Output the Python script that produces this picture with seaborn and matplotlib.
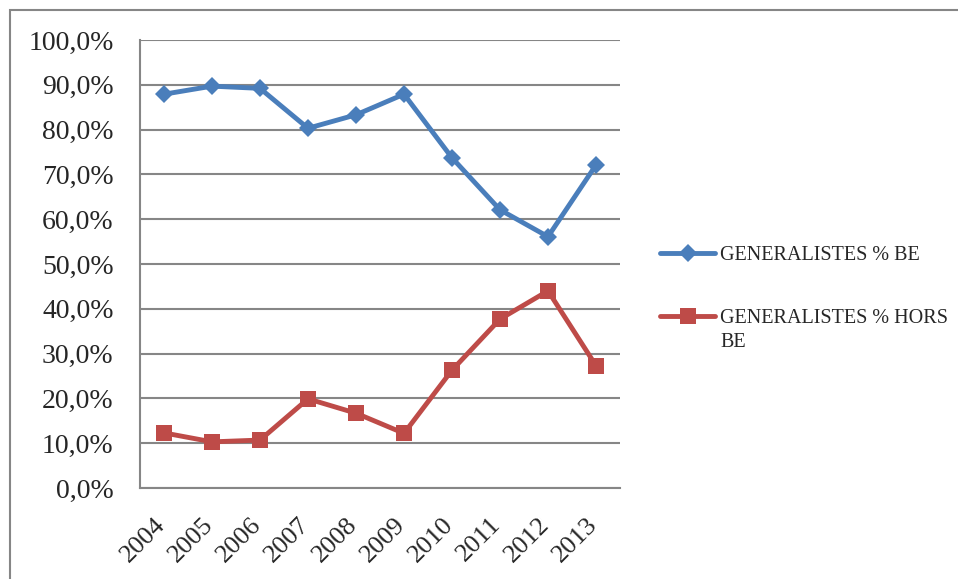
import pandas as pd
import numpy as np
import matplotlib
matplotlib.use('Agg')
import matplotlib.pyplot as plt
import matplotlib.transforms as mtransforms
import seaborn as sns
from matplotlib.ticker import FuncFormatter, FixedLocator
from matplotlib.patches import Rectangle

# --- DONNEES ---
annees = ['2004', '2005', '2006', '2007', '2008', '2009', '2010', '2011', '2012', '2013']
generalistes_be = [87.9, 89.7, 89.2, 80.3, 83.3, 87.9, 73.7, 62.1, 56.1, 72.1]
generalistes_hors_be = [12.3, 10.3, 10.7, 19.9, 16.7, 12.2, 26.3, 37.7, 44.0, 27.3]

serie_be = 'GENERALISTES % BE'
serie_hors = 'GENERALISTES % HORS'   # suivi de "BE" a la ligne (voir plus bas)

df = pd.DataFrame({
    'pos': list(range(len(annees))) * 2,
    'valeur': generalistes_be + generalistes_hors_be,
    'serie': [serie_be] * len(annees) + [serie_hors] * len(annees),
})

sns.set_style('white')
plt.rcParams['font.family'] = ['Liberation Serif', 'DejaVu Serif']

gris = '#868686'
couleurs = {serie_be: '#4A7EBB', serie_hors: '#BE4B48'}

fig = plt.figure(figsize=(9.58, 5.79), dpi=100)
ax = fig.add_axes([140 / 958, 1 - 488 / 579, 480 / 958, 448 / 579])

sns.lineplot(data=df, x='pos', y='valeur', hue='serie', style='serie',
             palette=couleurs, markers={serie_be: 'D', serie_hors: 's'},
             dashes=False, linewidth=3.5, markersize=9.5, markeredgewidth=0,
             ax=ax)
for l in ax.lines:
    if l.get_marker() == 's':
        l.set_markersize(11)

# --- AXES ---
ax.set_xlim(-0.5, len(annees) - 0.5)
ax.set_ylim(0, 100)
ax.set_yticks(np.arange(0, 101, 10))
ax.yaxis.set_major_formatter(FuncFormatter(lambda v, p: f'{v:.1f}%'.replace('.', ',')))
ax.yaxis.grid(True, color=gris, linewidth=1.5)
ax.xaxis.grid(False)

ax.set_xticks(range(len(annees)))
ax.set_xticklabels(annees, rotation=45, ha='right', rotation_mode='anchor')
ax.xaxis.set_minor_locator(FixedLocator(np.arange(-0.5, len(annees), 1)))
ax.tick_params(axis='x', which='major', length=0, pad=14, labelsize=19)
ax.tick_params(axis='x', which='minor', length=6, width=1.5, color=gris)
ax.tick_params(axis='y', length=6, width=1.5, color=gris, labelsize=20, pad=13)
ax.set_xlabel('')
ax.set_ylabel('')

# petit decalage des annees (apres tick_params, qui remet les transforms a zero)
decalage = mtransforms.ScaledTranslation(-10 / 100, -6 / 100, fig.dpi_scale_trans)
for lab in ax.get_xticklabels():
    lab.set_transform(lab.get_transform() + decalage)

for s in ['top', 'right']:
    ax.spines[s].set_visible(False)
for s in ['left', 'bottom']:
    ax.spines[s].set_color(gris)
    ax.spines[s].set_linewidth(1.5)

# --- LEGENDE ---
handles, labels = ax.get_legend_handles_labels()
leg = ax.legend(handles, labels, loc='upper left', bbox_to_anchor=(650 / 958, 1 - 236 / 579),
                bbox_transform=fig.transFigure, frameon=False, fontsize=14.5,
                handlelength=2.75, handletextpad=0.25, labelspacing=2.15, borderpad=0)

# deuxieme ligne du libelle rouge, sous le texte de la legende
fig.canvas.draw()
bb = leg.get_texts()[1].get_window_extent()
fig.text(bb.x0 / fig.bbox.width, (bb.y0 - 24) / fig.bbox.height, 'BE',
         fontsize=14.5, ha='left', va='bottom')

# --- CADRE ---
fig.patches.append(Rectangle((10 / 958, -0.05), 1.2, 1 - 10 / 579 + 0.05,
                             transform=fig.transFigure, fill=False,
                             edgecolor=gris, linewidth=1.5, zorder=0))

plt.savefig('out.png', dpi=100)
